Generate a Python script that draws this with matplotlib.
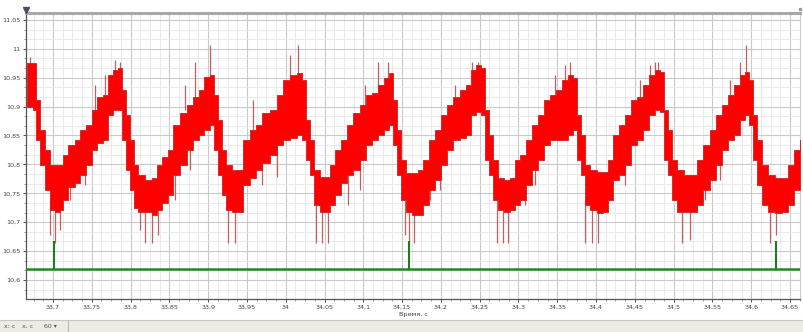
import numpy as np
import matplotlib.pyplot as plt
from matplotlib.ticker import MultipleLocator, FuncFormatter
from matplotlib.patches import Rectangle

# red trace: band envelope (fast switching fills the space between lo and hi)
band_t = [33.667, 33.674, 33.678, 33.683, 33.690, 33.696, 33.703, 33.709, 33.713, 33.719,
          33.728, 33.735, 33.743, 33.750, 33.757, 33.764, 33.771, 33.777, 33.784, 33.789,
          33.794, 33.799, 33.804, 33.810, 33.819, 33.828, 33.834, 33.841, 33.848, 33.855,
          33.864, 33.873, 33.880, 33.888, 33.895, 33.902, 33.908, 33.913, 33.918, 33.923,
          33.931, 33.938, 33.945, 33.954, 33.962, 33.969, 33.980, 33.989, 33.996, 34.005,
          34.015, 34.021, 34.026, 34.031, 34.036, 34.044, 34.052, 34.057, 34.063, 34.071,
          34.079, 34.087, 34.096, 34.103, 34.111, 34.119, 34.127, 34.133, 34.138, 34.143,
          34.149, 34.155, 34.163, 34.170, 34.177, 34.185, 34.192, 34.200, 34.208, 34.216,
          34.225, 34.232, 34.239, 34.245, 34.252, 34.257, 34.262, 34.267, 34.274, 34.281,
          34.289, 34.296, 34.302, 34.310, 34.317, 34.325, 34.333, 34.341, 34.348, 34.356,
          34.364, 34.370, 34.375, 34.381, 34.386, 34.392, 34.401, 34.409, 34.415, 34.422,
          34.430, 34.437, 34.445, 34.453, 34.461, 34.468, 34.476, 34.482, 34.488, 34.493,
          34.498, 34.504, 34.513, 34.522, 34.530, 34.538, 34.547, 34.555, 34.562, 34.570,
          34.578, 34.586, 34.592, 34.597, 34.602, 34.607, 34.614, 34.622, 34.631, 34.640,
          34.647, 34.655, 34.663]
band_hi = [10.975, 10.975, 10.911, 10.860, 10.825, 10.799, 10.799, 10.799, 10.816, 10.834,
           10.842, 10.860, 10.868, 10.894, 10.917, 10.920, 10.955, 10.963, 10.967, 10.929,
           10.885, 10.842, 10.799, 10.782, 10.773, 10.776, 10.799, 10.813, 10.825, 10.868,
           10.889, 10.903, 10.917, 10.929, 10.951, 10.955, 10.920, 10.877, 10.825, 10.799,
           10.790, 10.790, 10.842, 10.860, 10.868, 10.889, 10.894, 10.920, 10.946, 10.955,
           10.958, 10.946, 10.877, 10.842, 10.790, 10.778, 10.778, 10.799, 10.825, 10.842,
           10.868, 10.889, 10.903, 10.920, 10.924, 10.937, 10.949, 10.958, 10.911, 10.860,
           10.808, 10.785, 10.785, 10.790, 10.808, 10.842, 10.860, 10.885, 10.903, 10.917,
           10.929, 10.937, 10.963, 10.972, 10.967, 10.894, 10.851, 10.808, 10.776, 10.773,
           10.776, 10.808, 10.816, 10.842, 10.868, 10.885, 10.911, 10.920, 10.929, 10.946,
           10.955, 10.949, 10.885, 10.851, 10.799, 10.790, 10.787, 10.787, 10.808, 10.851,
           10.868, 10.885, 10.911, 10.917, 10.937, 10.955, 10.963, 10.960, 10.894, 10.860,
           10.808, 10.790, 10.782, 10.782, 10.808, 10.834, 10.860, 10.885, 10.903, 10.920,
           10.937, 10.955, 10.960, 10.946, 10.885, 10.842, 10.799, 10.782, 10.776, 10.776,
           10.799, 10.825, 10.842]
band_lo = [10.899, 10.894, 10.842, 10.799, 10.756, 10.721, 10.718, 10.721, 10.738, 10.761,
           10.768, 10.782, 10.799, 10.825, 10.837, 10.842, 10.885, 10.894, 10.894, 10.842,
           10.790, 10.756, 10.725, 10.718, 10.718, 10.712, 10.721, 10.733, 10.747, 10.782,
           10.799, 10.825, 10.842, 10.851, 10.860, 10.868, 10.825, 10.782, 10.747, 10.721,
           10.718, 10.718, 10.764, 10.776, 10.790, 10.802, 10.816, 10.834, 10.842, 10.846,
           10.851, 10.842, 10.808, 10.782, 10.730, 10.718, 10.718, 10.730, 10.747, 10.768,
           10.782, 10.790, 10.808, 10.834, 10.842, 10.851, 10.860, 10.868, 10.834, 10.782,
           10.738, 10.718, 10.712, 10.712, 10.730, 10.756, 10.773, 10.799, 10.825, 10.842,
           10.846, 10.851, 10.885, 10.891, 10.885, 10.808, 10.782, 10.738, 10.721, 10.718,
           10.721, 10.730, 10.738, 10.764, 10.790, 10.808, 10.834, 10.842, 10.842, 10.842,
           10.851, 10.860, 10.808, 10.782, 10.730, 10.721, 10.716, 10.718, 10.738, 10.773,
           10.782, 10.799, 10.834, 10.842, 10.860, 10.885, 10.894, 10.891, 10.808, 10.782,
           10.738, 10.718, 10.718, 10.718, 10.730, 10.756, 10.773, 10.799, 10.825, 10.842,
           10.851, 10.877, 10.885, 10.868, 10.808, 10.764, 10.730, 10.718, 10.716, 10.718,
           10.730, 10.756, 10.773]

# single samples that shoot out of the band
spike_t = [33.696, 33.703, 33.709, 33.812, 33.819, 33.828, 33.835, 33.926, 33.935, 34.039,
           34.047, 34.054, 34.154, 34.159, 34.165, 34.272, 34.280, 34.287, 34.386, 34.395,
           34.403, 34.511, 34.521, 34.624, 34.632,
           33.670, 33.754, 33.767, 33.780, 33.786, 33.870, 33.883, 33.902, 33.958, 34.005,
           34.016, 34.102, 34.119, 34.132, 34.218, 34.240, 34.248, 34.347, 34.360, 34.366,
           34.457, 34.470, 34.476, 34.480, 34.573, 34.586, 34.593,
           33.722, 33.741, 33.857, 33.877, 33.969, 33.989, 34.080, 34.096, 34.186, 34.199,
           34.308, 34.321, 34.421, 34.437, 34.540, 34.560]
spike_hi = [10.738, 10.738, 10.747, 10.756, 10.756, 10.747, 10.747, 10.747, 10.747, 10.747,
            10.738, 10.738, 10.738, 10.738, 10.747, 10.738, 10.738, 10.738, 10.738, 10.738,
            10.738, 10.738, 10.738, 10.738, 10.738,
            10.986, 10.937, 10.955, 10.981, 10.977, 10.937, 10.977, 11.007, 10.911, 10.989,
            11.007, 10.937, 10.977, 10.977, 10.937, 10.977, 10.977, 10.955, 10.972, 10.977,
            10.946, 10.972, 10.977, 10.977, 10.946, 10.977, 11.007,
            10.773, 10.799, 10.790, 10.842, 10.808, 10.842, 10.790, 10.825, 10.773, 10.799,
            10.756, 10.799, 10.773, 10.808, 10.764, 10.808]
spike_lo = [10.678, 10.664, 10.687, 10.687, 10.664, 10.664, 10.678, 10.664, 10.664, 10.664,
            10.664, 10.664, 10.678, 10.664, 10.664, 10.664, 10.664, 10.664, 10.664, 10.664,
            10.664, 10.664, 10.669, 10.664, 10.678,
            10.946, 10.877, 10.911, 10.946, 10.946, 10.894, 10.911, 10.946, 10.860, 10.946,
            10.955, 10.894, 10.929, 10.937, 10.894, 10.946, 10.946, 10.911, 10.929, 10.937,
            10.911, 10.946, 10.955, 10.955, 10.911, 10.946, 10.955,
            10.738, 10.764, 10.738, 10.790, 10.764, 10.778, 10.730, 10.756, 10.738, 10.756,
            10.730, 10.764, 10.738, 10.764, 10.738, 10.773]

# green trace: flat level with three short pulses
green_base = 10.619
pulse_t = [33.701, 34.159, 34.632]
pulse_top = [10.668, 10.668, 10.668]

t_min, t_max = 33.6652, 34.6629
v_min, v_max = 10.5671, 11.0619


def comma(val, pos):
    return ('%g' % round(val, 3)).replace('.', ',')


fig = plt.figure(figsize=(8.04, 3.32), dpi=100)
fig.patch.set_facecolor('white')
ax = fig.add_axes([26 / 804, 1 - 299 / 332, 774 / 804, 286 / 332])

ax.set_xlim(t_min, t_max)
ax.set_ylim(v_min, v_max)

ax.xaxis.set_major_locator(MultipleLocator(0.05))
ax.xaxis.set_minor_locator(MultipleLocator(0.0125))
ax.yaxis.set_major_locator(MultipleLocator(0.05))
ax.yaxis.set_minor_locator(MultipleLocator(0.05 / 3))
ax.xaxis.set_major_formatter(FuncFormatter(comma))
ax.yaxis.set_major_formatter(FuncFormatter(comma))

ax.grid(which='major', color='#c9c9c9', linewidth=0.8)
ax.grid(which='minor', color='#e6e6e6', linewidth=0.6)
ax.set_axisbelow(True)

ax.tick_params(which='major', length=2.5, width=0.7, color='#555555',
               labelsize=4.6, labelcolor='#444444', pad=1.5)
ax.tick_params(which='minor', length=1.5, width=0.5, color='#777777')

for side in ('left', 'bottom'):
    ax.spines[side].set_color('#555555')
    ax.spines[side].set_linewidth(0.9)
ax.spines['top'].set_color('#a8a8a8')
ax.spines['top'].set_linewidth(2.2)
ax.spines['right'].set_color('#cccccc')
ax.spines['right'].set_linewidth(0.8)

# red signal
ax.fill_between(band_t, band_lo, band_hi, step='post', color='#ff0000',
                edgecolor='#d02020', linewidth=0.6, zorder=3)
ax.vlines(spike_t, spike_lo, spike_hi, color='#c06060', linewidth=0.9, zorder=2)

# green signal
ax.axhline(green_base, color='#1e8a1e', linewidth=1.8, zorder=4)
ax.vlines(pulse_t, green_base, pulse_top, color='#1e7a1e', linewidth=1.5, zorder=4)

ax.set_xlabel('Время, с', fontsize=4.6, color='#444444')
ax.xaxis.set_label_coords(0.5, -0.045)
ax.xaxis.label.set_verticalalignment('top')

# cursor marker at the top-left corner of the plot
ax.plot([0], [1.01], marker='v', markersize=4.5, color='#4a4a6a',
        transform=ax.transAxes, clip_on=False, zorder=6)
ax.plot([1.0], [1.015], marker='s', markersize=2, color='#9a9aa8',
        transform=ax.transAxes, clip_on=False, zorder=6)

# status bar along the bottom of the window
fig.patches.append(Rectangle((0, 0), 1, 12 / 332, transform=fig.transFigure,
                             facecolor='#ecebe4', edgecolor='none', zorder=0))
fig.add_artist(plt.Line2D([0, 1], [12 / 332, 12 / 332], color='#c8c8c0',
                          linewidth=0.8, transform=fig.transFigure))
fig.text(4 / 804, 4 / 332, 'x: c', fontsize=4.5, color='#555555')
fig.text(22 / 804, 4 / 332, 'x, c', fontsize=4.5, color='#555555')
fig.text(44 / 804, 4 / 332, '60 \u25be', fontsize=4.5, color='#555555')
fig.add_artist(plt.Line2D([68 / 804, 68 / 804], [0, 11 / 332], color='#b8b8b0',
                          linewidth=0.8, transform=fig.transFigure))

fig.savefig('out.png', dpi=100)
